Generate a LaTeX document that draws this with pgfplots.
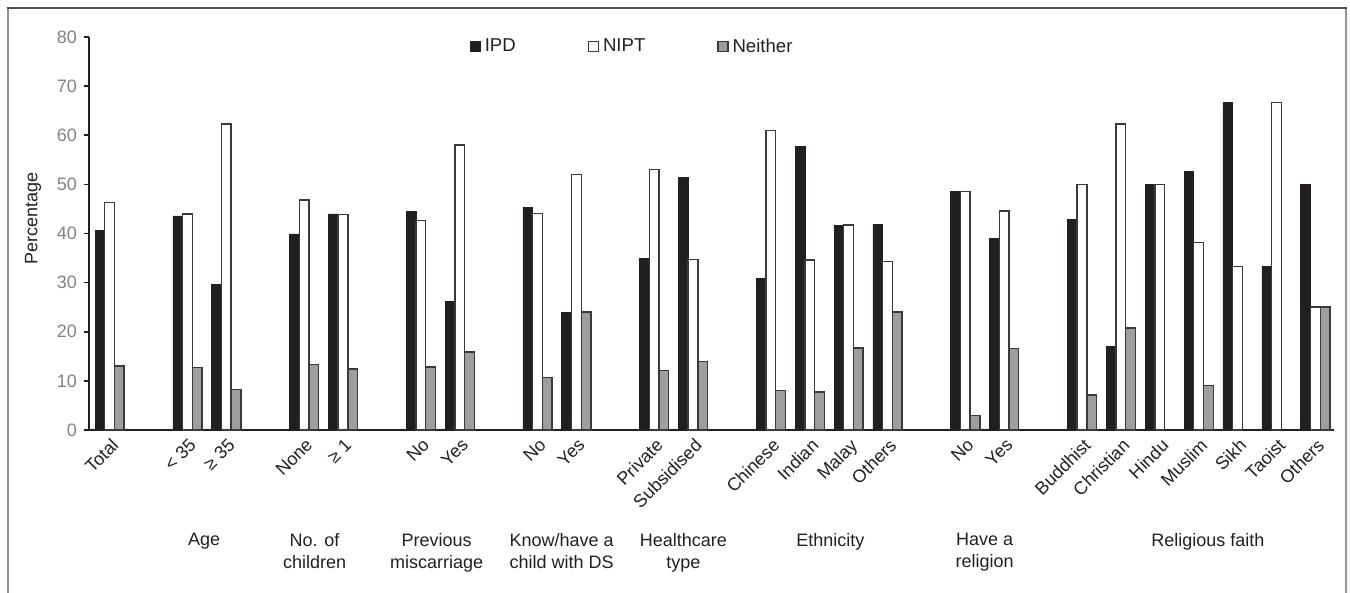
\documentclass[border=0pt]{standalone}
\usepackage{pgfplots}
\pgfplotsset{compat=1.18}
\usepackage{pgfplotstable}
\usepackage{fontspec}
\setmainfont{Liberation Sans}
\definecolor{ink}{HTML}{231F20}
\definecolor{edge}{HTML}{3A3A3A}
\definecolor{midgray}{HTML}{9C9EA1}
\definecolor{tickgray}{HTML}{808285}

\pgfplotstableread{
pos IPD
0 40.7
2 43.6
3 29.7
5 39.9
6 44.0
8 44.5
9 26.2
11 45.3
12 24.0
14 35.0
15 51.5
17 30.9
18 57.8
19 41.7
20 41.9
22 48.6
23 39.0
25 42.9
26 17.0
27 50.0
28 52.7
29 66.7
30 33.3
31 50.0
}\ipd
\pgfplotstableread{
pos NIPT
0 46.3
2 44.0
3 62.3
5 46.8
6 43.9
8 42.7
9 58.0
11 44.1
12 52.0
14 53.0
15 34.7
17 61.0
18 34.6
19 41.7
20 34.3
22 48.6
23 44.6
25 50.0
26 62.3
27 50.0
28 38.2
29 33.3
30 66.7
31 25.0
}\nipt
\pgfplotstableread{
pos Neither
0 13.0
2 12.7
3 8.2
5 13.3
6 12.4
8 12.8
9 15.9
11 10.7
12 24.0
14 12.1
15 13.9
17 8.1
18 7.7
19 16.7
20 24.0
22 2.9
23 16.6
25 7.1
26 20.8
28 9.1
31 25.0
}\neither

\begin{document}
\begin{tikzpicture}
\begin{axis}[
  at={(0pt,0pt)}, anchor=south west,
  scale only axis, width=622.5pt, height=196.5pt,
  xmin=-0.53, xmax=31.48, ymin=0, ymax=80,
  axis x line=bottom, axis y line=left,
  axis line style={-, ink, line width=0.8pt},
  ytick={0,10,...,80},
  ytick style={ink, line width=0.8pt},
  tick align=outside, major tick length=2.5pt,
  xtick={0,2,3,5,6,8,9,11,12,14,15,17,18,19,20,22,23,25,26,27,28,29,30,31},
  xticklabels={Total,< 35,≥ 35,None,≥ 1,No,Yes,No,Yes,Private,Subsidised,Chinese,Indian,Malay,Others,No,Yes,Buddhist,Christian,Hindu,Muslim,Sikh,Taoist,Others},
  x tick style={draw=none},
  x tick label style={rotate=45, anchor=north east, font=\fontsize{9}{10}\selectfont, text=ink, inner sep=1pt, xshift=0.5pt},
  y tick label style={font=\fontsize{9}{10}\selectfont, text=tickgray},
  /pgf/number format/assume math mode=true,
  ylabel={Percentage},
  ylabel style={at={(rel axis cs:-0.045,0.538)}, anchor=center, rotate=0, font=\fontsize{9}{10}\selectfont, text=ink},
  ybar, bar width=0.25,
  legend columns=3,
  legend style={at={(rel axis cs:0.437,0.975)}, anchor=center, draw=none, fill=none,
    font=\fontsize{9.3}{10}\selectfont, text=ink,
    /tikz/every even column/.append style={column sep=34pt}},
  legend image code/.code={\draw[#1, line width=0.6pt] (0pt,-2.5pt) rectangle (5pt,2.5pt);},
  clip=false,
]
\addplot[fill=ink, draw=ink, line width=0.3pt, bar shift=-0.25] table[x=pos, y=IPD] {\ipd};
\addplot[fill=white, draw=edge, line width=0.7pt, bar shift=0] table[x=pos, y=NIPT] {\nipt};
\addplot[fill=midgray, draw=edge, line width=0.7pt, bar shift=0.25] table[x=pos, y=Neither] {\neither};
\legend{IPD,NIPT,Neither}

\begin{scope}[every node/.style={font=\fontsize{9}{10.8}\selectfont, text=ink, align=center, anchor=north, inner sep=0pt}]
\node at (axis cs:2.43,0) [yshift=-51.5pt] {Age};
\node at (axis cs:5.27,0) [yshift=-51.5pt] {No. of\\children};
\node at (axis cs:8.41,0) [yshift=-51.5pt] {Previous\\miscarriage};
\node at (axis cs:11.62,0) [yshift=-51.5pt] {Know/have a\\child with DS};
\node at (axis cs:14.75,0) [yshift=-51.5pt] {Healthcare\\type};
\node at (axis cs:18.53,0) [yshift=-51.5pt] {Ethnicity};
\node at (axis cs:22.5,0) [yshift=-51.5pt] {Have a\\religion};
\node at (axis cs:28.24,0) [yshift=-51.5pt] {Religious faith};
\end{scope}
\end{axis}
\draw[gray!85, line width=1pt] (-40.5pt,-81.5pt) -- (-40.5pt,210.5pt);
\draw[gray!85, line width=1pt] (628.5pt,-81.5pt) -- (628.5pt,210.5pt);
\draw[black!70, line width=1pt] (-41pt,211pt) -- (629pt,211pt);
\pgfresetboundingbox
\path (-44.5pt,-81.5pt) rectangle (630.5pt,215pt);
\end{tikzpicture}
\end{document}
